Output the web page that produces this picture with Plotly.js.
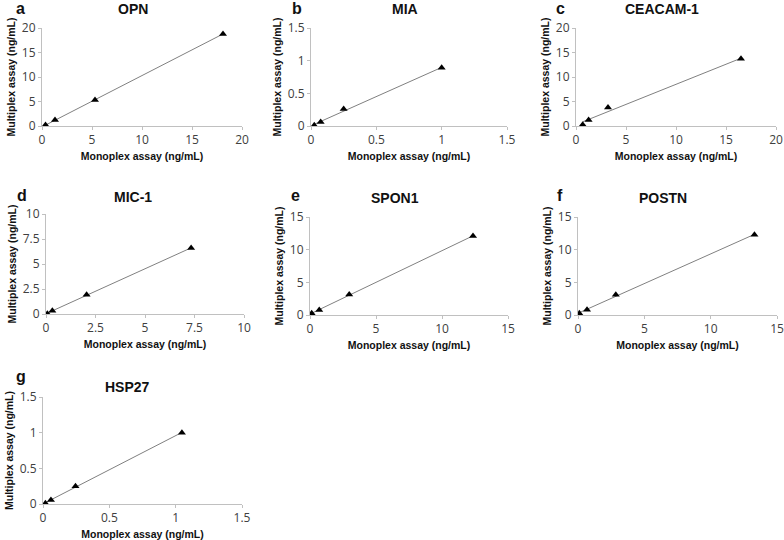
<!DOCTYPE html>
<html>
<head>
<meta charset="utf-8">
<script src="https://cdn.plot.ly/plotly-3.0.1.min.js"></script>
<style>html,body{margin:0;padding:0;background:#fff;}#chart{width:784px;height:540px;}</style>
</head>
<body>
<div id="chart"></div>
<script>
// Panel names and letters
const panelNames = ["OPN", "MIA", "CEACAM-1", "MIC-1", "SPON1", "POSTN", "HSP27"];
const panelLetters = ["a", "b", "c", "d", "e", "f", "g"];

// Monoplex (x) and multiplex (y) values, ng/mL
const opnX = [0.35, 1.3, 5.3, 18.1];
const opnY = [0.2, 1.2, 5.3, 18.8];
const miaX = [0.025, 0.074, 0.25, 1.0];
const miaY = [0.01, 0.06, 0.26, 0.89];
const ceacamX = [0.67, 1.26, 3.2, 16.5];
const ceacamY = [0.27, 1.2, 3.8, 13.7];
const mic1X = [0.07, 0.32, 2.05, 7.33];
const mic1Y = [0.03, 0.33, 1.93, 6.6];
const spon1X = [0.13, 0.7, 2.97, 12.35];
const spon1Y = [0.25, 0.76, 3.15, 12.1];
const postnX = [0.1, 0.68, 2.85, 13.3];
const postnY = [0.25, 0.8, 3.1, 12.3];
const hsp27X = [0.018, 0.06, 0.245, 1.047];
const hsp27Y = [0.01, 0.056, 0.25, 1.0];

// Axis ranges / tick steps
const xMax = [20, 1.5, 20, 10, 15, 15, 1.5];
const yMax = [20, 1.5, 20, 10, 15, 15, 1.5];
const xStep = [5, 0.5, 5, 2.5, 5, 5, 0.5];
const yStep = [5, 0.5, 5, 2.5, 5, 5, 0.5];

const xTitle = "Monoplex assay (ng/mL)";
const yTitle = "Multiplex assay (ng/mL)";

const xs = [opnX, miaX, ceacamX, mic1X, spon1X, postnX, hsp27X];
const ys = [opnY, miaY, ceacamY, mic1Y, spon1Y, postnY, hsp27Y];

// plot area boxes in pixels [x0, x1, y0(top), y1(bottom)]
const boxes = [
  [42, 242, 28, 126],
  [311, 507, 28, 126],
  [576, 776, 28, 126],
  [46, 244, 214, 314],
  [310, 508, 217, 315],
  [578, 777, 217, 315],
  [43, 242, 397, 504]
];
// panel title centres [x, y] and letter positions [x-left, y-centre]
const titlePos = [[133, 9], [405, 9], [662, 9], [133, 197], [395, 198], [663, 198], [128, 387]];
const letterPos = [[14, 8], [290, 8], [554, 8], [15, 195], [289, 195], [555, 195], [14, 376]];
const W = 784, H = 540;

function fit(x, y) {
  const n = x.length;
  let sx = 0, sy = 0, sxx = 0, sxy = 0;
  for (let i = 0; i < n; i++) { sx += x[i]; sy += y[i]; sxx += x[i]*x[i]; sxy += x[i]*y[i]; }
  const b = (n*sxy - sx*sy) / (n*sxx - sx*sx);
  const a = (sy - b*sx) / n;
  return [a, b];
}

const data = [];
const layout = {
  width: W, height: H,
  margin: {l: 0, r: 0, t: 0, b: 0},
  paper_bgcolor: "#fff", plot_bgcolor: "#fff",
  showlegend: false,
  font: {family: "Open Sans, Liberation Sans, sans-serif", color: "#333"},
  annotations: []
};

const fontTick = {family: "Open Sans, sans-serif", size: 12, color: "#404040"};
const fontAx = {family: "Liberation Sans, Arial, sans-serif", size: 10.5, color: "#111"};

for (let i = 0; i < 7; i++) {
  const k = i + 1;
  const xa = "x" + (k === 1 ? "" : k), ya = "y" + (k === 1 ? "" : k);
  const xk = "xaxis" + (k === 1 ? "" : k), yk = "yaxis" + (k === 1 ? "" : k);
  const [x0, x1, y0, y1] = boxes[i];
  const [a, b] = fit(xs[i], ys[i]);
  const lx0 = Math.min(...xs[i]), lx1 = Math.max(...xs[i]);
  data.push({
    type: "scatter", mode: "lines", x: [lx0, lx1], y: [a + b*lx0, a + b*lx1],
    xaxis: xa, yaxis: ya, line: {color: "#808080", width: 1}, hoverinfo: "skip"
  });
  data.push({
    type: "scatter", mode: "markers", x: xs[i], y: ys[i],
    xaxis: xa, yaxis: ya,
    marker: {symbol: "triangle-up", size: 7, color: "#000"}
  });
  layout[xk] = {
    domain: [x0 / W, x1 / W], anchor: ya,
    range: [0, xMax[i]], dtick: xStep[i], tick0: 0,
    showgrid: false, zeroline: false, showline: true, linecolor: "#c0c0c0", linewidth: 1,
    ticks: "outside", ticklen: 3, tickcolor: "#c0c0c0",
    tickfont: fontTick,
    title: {text: "<b>" + xTitle + "</b>", font: fontAx, standoff: 5}
  };
  layout[yk] = {
    domain: [1 - y1 / H, 1 - y0 / H], anchor: xa,
    range: [0, yMax[i]], dtick: yStep[i], tick0: 0,
    showgrid: false, zeroline: false, showline: true, linecolor: "#c0c0c0", linewidth: 1,
    ticks: "outside", ticklen: 3, tickcolor: "#c0c0c0",
    tickfont: fontTick,
    title: {text: "<b>" + yTitle + "</b>", font: fontAx, standoff: 4}
  };
  layout.annotations.push({
    xref: "paper", yref: "paper",
    x: titlePos[i][0] / W, y: 1 - titlePos[i][1] / H,
    xanchor: "center", yanchor: "middle",
    text: "<b>" + panelNames[i] + "</b>", showarrow: false,
    font: {family: "Liberation Sans, Arial, sans-serif", size: 14, color: "#111"}
  });
  layout.annotations.push({
    xref: "paper", yref: "paper",
    x: letterPos[i][0] / W, y: 1 - letterPos[i][1] / H,
    xanchor: "left", yanchor: "middle",
    text: "<b>" + panelLetters[i] + "</b>", showarrow: false,
    font: {family: "Liberation Sans, Arial, sans-serif", size: 16, color: "#111"}
  });
}

Plotly.newPlot("chart", data, layout, {staticPlot: true});
</script>
</body>
</html>
